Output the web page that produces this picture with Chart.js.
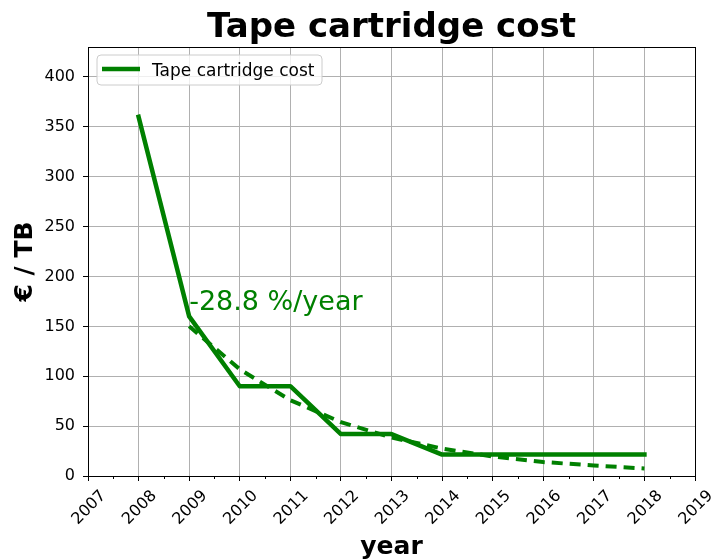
<!DOCTYPE html>
<html><head><meta charset="utf-8">
<script src="https://cdn.jsdelivr.net/npm/chart.js@4/dist/chart.umd.min.js"></script>
<style>html,body{margin:0;padding:0;background:#fff}canvas{display:block}</style>
</head><body>
<canvas id="c" width="712" height="559"></canvas>
<script>
const chartTitle = 'Tape cartridge cost';
const xAxisTitle = 'year';
const yAxisTitle = '€ / TB';
const seriesLabel = 'Tape cartridge cost';
const years = [2008, 2009, 2010, 2011, 2012, 2013, 2014, 2015, 2016, 2017, 2018];
const costs = [360, 160, 90, 90, 42, 42, 21.5, 21.5, 21.5, 21.5, 21.5];
const trendYears = [2009, 2010, 2011, 2012, 2013, 2014, 2015, 2016, 2017, 2018];
const trendCosts = [150, 107, 76, 54, 38.5, 27.5, 19.5, 14, 10.5, 7.5];
const xTickLabels = ['2007','2008','2009','2010','2011','2012','2013','2014','2015','2016','2017','2018','2019'];
const rateLabel = '-28.8 %/year';
const rateLabelX = 2009;
const rateLabelY = 166;

const GREEN = '#008000';
const FONT = '"DejaVu Sans", sans-serif';

const extras = {
  id: 'extras',
  afterDatasetsDraw(chart) {
    const ctx = chart.ctx;
    const a = chart.chartArea;
    const xs = chart.scales.x, ys = chart.scales.y;
    ctx.save();
    // spines
    ctx.strokeStyle = '#000';
    ctx.lineWidth = 1;
    ctx.strokeRect(Math.round(a.left) + 0.5, Math.round(a.top) + 0.5,
      Math.round(a.right) - Math.round(a.left), Math.round(a.bottom) - Math.round(a.top));
    // minor x ticks
    ctx.beginPath();
    for (let i = 0; i < xTickLabels.length - 1; i++) {
      const v = Number(xTickLabels[i]) + 0.5;
      const px = Math.round(xs.getPixelForValue(v)) + 0.5;
      ctx.moveTo(px, a.bottom); ctx.lineTo(px, a.bottom + 3);
    }
    ctx.stroke();
    // rotated x tick labels
    ctx.fillStyle = '#000';
    ctx.font = '16px ' + FONT;
    ctx.textAlign = 'center';
    ctx.textBaseline = 'alphabetic';
    xTickLabels.forEach(l => {
      const px = xs.getPixelForValue(Number(l));
      ctx.save();
      ctx.translate(px, a.bottom + 30.5);
      ctx.rotate(-Math.PI / 4);
      ctx.fillText(l, 0, 5.8);
      ctx.restore();
    });
    // annotation
    ctx.fillStyle = GREEN;
    ctx.font = '27px ' + FONT;
    ctx.textAlign = 'left';
    ctx.textBaseline = 'alphabetic';
    ctx.fillText(rateLabel, xs.getPixelForValue(rateLabelX), ys.getPixelForValue(rateLabelY));
    // legend
    const bx = a.left + 9, by = a.top + 8, bw = 225, bh = 30, r = 4;
    ctx.beginPath();
    ctx.moveTo(bx + r, by);
    ctx.arcTo(bx + bw, by, bx + bw, by + bh, r);
    ctx.arcTo(bx + bw, by + bh, bx, by + bh, r);
    ctx.arcTo(bx, by + bh, bx, by, r);
    ctx.arcTo(bx, by, bx + bw, by, r);
    ctx.closePath();
    ctx.fillStyle = 'rgba(255,255,255,0.8)';
    ctx.fill();
    ctx.strokeStyle = '#cccccc';
    ctx.lineWidth = 1;
    ctx.stroke();
    const ds = chart.data.datasets[0];
    ctx.beginPath();
    ctx.strokeStyle = ds.borderColor;
    ctx.lineWidth = ds.borderWidth;
    ctx.lineCap = 'butt';
    ctx.moveTo(bx + 5, by + 14); ctx.lineTo(bx + 43, by + 14);
    ctx.stroke();
    ctx.fillStyle = '#000';
    ctx.font = '17px ' + FONT;
    ctx.fillText(ds.label, bx + 55, by + 21);
    ctx.restore();
  }
};

new Chart(document.getElementById('c'), {
  type: 'line',
  data: {
    datasets: [
      {
        label: seriesLabel,
        data: years.map((y, i) => ({x: y, y: costs[i]})),
        borderColor: GREEN,
        borderWidth: 4.5,
        borderCapStyle: 'square',
        borderJoinStyle: 'round',
        pointRadius: 0,
        fill: false,
        tension: 0
      },
      {
        label: 'trend',
        data: trendYears.map((y, i) => ({x: y, y: trendCosts[i]})),
        borderColor: GREEN,
        borderWidth: 4,
        borderDash: [11, 7],
        pointRadius: 0,
        fill: false,
        tension: 0
      }
    ]
  },
  options: {
    responsive: false,
    animation: false,
    devicePixelRatio: 1,
    layout: {padding: {left: 0, right: 17, top: 0, bottom: 0}},
    plugins: {
      legend: {display: false},
      tooltip: {enabled: false},
      title: {
        display: true,
        fullSize: false,
        text: chartTitle,
        color: '#000',
        font: {family: FONT, size: 34, weight: 'bold', lineHeight: 1},
        padding: {top: 11.5, bottom: 1.5}
      }
    },
    scales: {
      x: {
        type: 'linear',
        min: 2007, max: 2019,
        afterFit: s => { s.height = 83; },
        ticks: {display: false, stepSize: 0.5, includeBounds: false},
        grid: {
          color: c => (Number.isInteger(c.tick.value) ? '#b0b0b0' : 'rgba(0,0,0,0)'),
          tickColor: c => (Number.isInteger(c.tick.value) ? '#000' : 'rgba(0,0,0,0)'),
          lineWidth: 1,
          tickLength: 5
        },
        border: {display: false},
        title: {
          display: true, text: xAxisTitle, color: '#000',
          font: {family: FONT, size: 25, weight: 'bold', lineHeight: 1},
          padding: {top: 0, bottom: -1}
        }
      },
      y: {
        type: 'linear',
        min: 0, max: 430,
        afterFit: s => { s.width = 88; },
        ticks: {stepSize: 50, includeBounds: false, color: '#000', padding: 8,
          font: {family: FONT, size: 16}},
        grid: {color: '#b0b0b0', lineWidth: 1, tickColor: '#000', tickLength: 5},
        border: {display: false},
        title: {
          display: true, text: yAxisTitle, color: '#000',
          font: {family: FONT, size: 25, weight: 'bold', lineHeight: 1},
          padding: {top: 13, bottom: 0}
        }
      }
    }
  },
  plugins: [extras]
});
</script>
</body></html>
